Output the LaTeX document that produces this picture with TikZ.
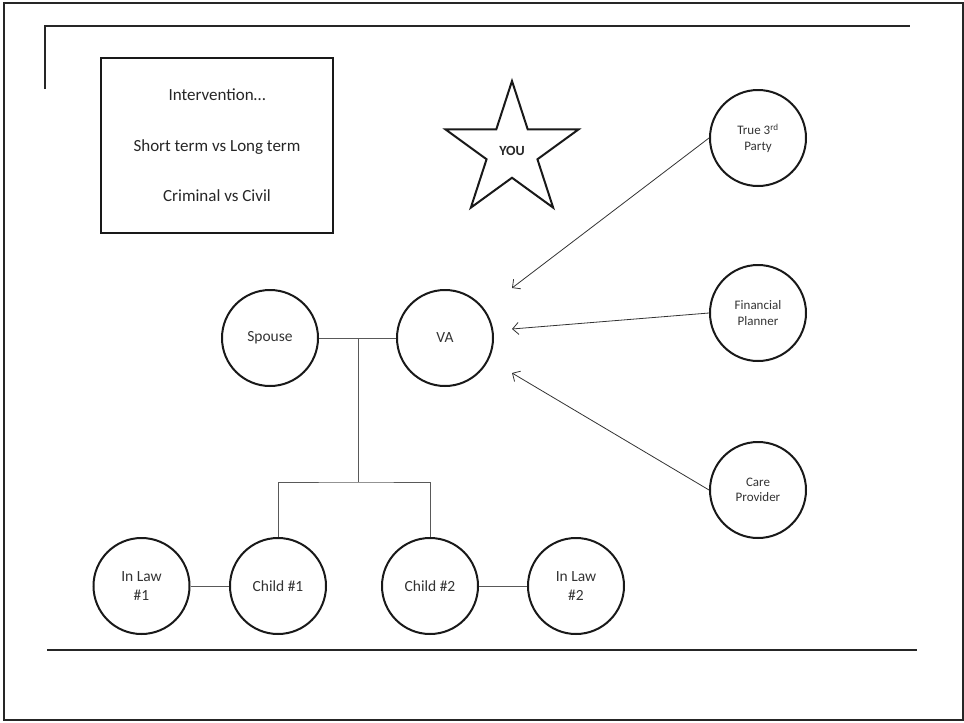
\documentclass[tikz,border=0pt]{standalone}
\usepackage{fontspec}
\setmainfont{Carlito}
\usetikzlibrary{shapes.geometric,arrows.meta}

\begin{document}
\begin{tikzpicture}[x=1pt,y=-1pt,
  person/.style={circle, draw=black!90, line width=2pt, minimum size=96pt,
    inner sep=0pt, align=center, text=black!80,
    font=\fontsize{15.5}{19}\selectfont},
  helper/.style={person, font=\fontsize{13}{15.5}\selectfont},
  tie/.style={draw=black!65, line width=1pt},
  pointer/.style={draw=black!80, line width=0.8pt,
    -{Straight Barb[length=6pt,width=12pt]}},
  frame/.style={draw=black!85, line width=2pt}
]
\useasboundingbox (0,0) rectangle (964,723);

% page frame and rules
\draw[frame] (4,3) rectangle (963,720);
\draw[frame] (45,89) -- (45,26) -- (910,26);
\draw[frame] (47,650) -- (917,650);

% topic box
\node[draw=black!90, line width=2pt, minimum width=232pt, minimum height=175pt,
  inner sep=0pt, align=center, text=black!85,
  font=\fontsize{17}{50.5}\selectfont] (topics) at (217,145.5)
  {Intervention…\\Short term vs Long term\\Criminal vs Civil};

% the reader
\node[star, star points=5, star point ratio=2.618, draw=black!90, line width=2pt,
  minimum size=140pt, inner sep=0pt, text=black!85,
  font=\fontsize{14}{16}\bfseries] (you) at (512,151) {YOU};

% family
\node[person] (spouse) at (270,338) {Spouse};
\node[person] (va)     at (445,338) {VA};
\node[person] (inlaw1) at (141.5,586) {In Law\\\#1};
\node[person] (child1) at (278,586) {Child \#1};
\node[person] (child2) at (430,586) {Child \#2};
\node[person] (inlaw2) at (576,586) {In Law\\\#2};

% outside parties
\node[helper] (third)   at (758,138) {True 3\textsuperscript{rd}\\Party};
\node[helper] (planner) at (758,313) {Financial\\Planner};
\node[helper] (carer)   at (758,490) {Care\\Provider};

% family tree links
\coordinate (jtop) at (358,338);
\coordinate (jbot) at (358,482);
\draw[tie] (spouse) -- (va);
\draw[tie] (jtop) -- (jbot);
\draw[tie] (child1.north) |- (jbot) -| (child2.north);
\draw[tie] (inlaw1) -- (child1);
\draw[tie] (child2) -- (inlaw2);

% pointers toward the VA
\coordinate (t1) at (512,288);
\coordinate (t2) at (512,329);
\coordinate (t3) at (512,373);
\draw[pointer] (third.west) -- (t1);
\draw[pointer] (planner.west) -- (t2);
\draw[pointer] (carer.west) -- (t3);
\end{tikzpicture}
\end{document}
